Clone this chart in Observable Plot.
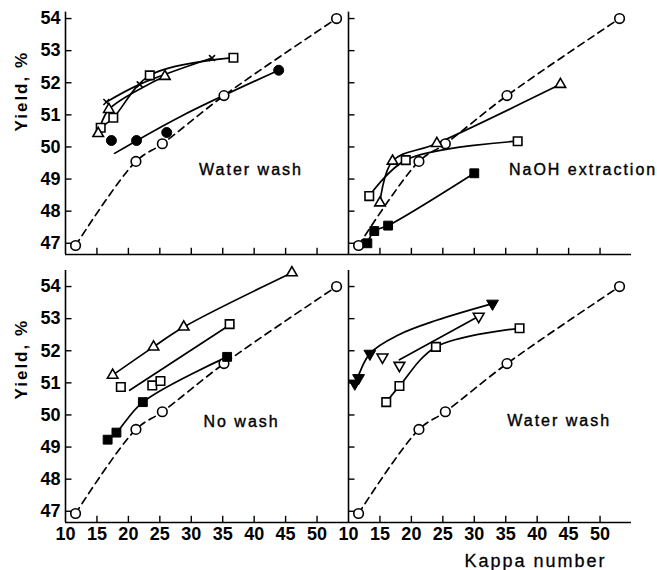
<!DOCTYPE html>
<html><head><meta charset="utf-8">
<script src="https://cdn.jsdelivr.net/npm/d3@7"></script>
<script src="https://cdn.jsdelivr.net/npm/@observablehq/plot@0.6"></script>
<style>
body{margin:0;background:#fff}
#chart{position:absolute;left:0;top:0}
</style></head><body><div id="chart"></div>
<script>
// ---- axes ----
const xTicks = [10,15,20,25,30,35,40,45,50];
const yTicks = [47,48,49,50,51,52,53,54];
const xDomain = [10, 55];
const yDomain = [46.65, 54.5];

// ---- panels: 0 top-left, 1 top-right, 2 bottom-left, 3 bottom-right ----
const panelCol = [0,1,0,1];
const panelRow = [0,0,1,1];
const panelTitles = ["Water wash","NaOH extraction","No wash","Water wash"];
const titleKappa = [39.5, 47.3, 38.0, 43.5];
const titleYield = [49.3, 49.3, 49.78, 49.83];
const axisTop = [54.2, 54.2, 54.5, 54.5];

// reference pulp (open circles, dashed) – same in every panel
const refPts = [[11.6,46.93],[21.2,49.55],[25.4,50.1],[35.2,51.6],[53.1,54.0]];

// panel 0 – Water wash
const p0FilledCircle = [[17.3,50.2],[21.3,50.2],[26.1,50.45],[43.9,52.39]];
const p0FilledCircleLine = [[17.8,49.8],[28.4,50.96],[43.9,52.39]];
const p0Cross = [[16.5,51.4],[21.8,51.95],[33.3,52.77]];
const p0Square = [[15.6,50.6],[17.6,50.91],[23.4,52.23],[36.7,52.78]];
const p0Triangle = [[15.2,50.42],[16.9,51.17],[25.8,52.2]];
// panel 1 – NaOH extraction
const p1FilledSquare = [[13.0,47.0],[14.1,47.38],[16.3,47.55],[30.0,49.18]];
const p1Square = [[13.3,48.47],[19.1,49.59],[36.9,50.18]];
const p1Triangle = [[15.0,48.26],[17.0,49.56],[24.05,50.11],[43.7,51.95]];
// panel 2 – No wash
const p2Triangle = [[17.5,51.24],[24.0,52.12],[28.8,52.74],[46.0,54.43]];
const p2Square = [[18.8,50.87],[23.8,50.92],[25.1,51.06],[36.1,52.83]];
const p2SquareLine = [[20.2,50.77],[36.1,52.8]];
const p2FilledSquare = [[16.7,49.23],[18.1,49.45],[22.3,50.4],[35.7,51.81]];
// panel 3 – Water wash
const p3FilledDown = [[11.0,50.98],[11.6,51.15],[13.4,51.91],[32.9,53.47]];
const p3FilledDownLine = [[11.2,51.0],[13.4,51.91],[18,52.5],[24,52.95],[32.9,53.47]];
const p3OpenDown = [[15.4,51.8],[18.1,51.54],[30.7,53.07]];
const p3OpenDownLine = [[18.1,51.72],[30.5,53.05]];
const p3Square = [[16.0,50.4],[18.1,50.9],[23.9,52.12],[37.2,52.7]];

// marker kinds
const kinds = {
  openCircle:   {symbol:"circle",   r:4.8, fill:"white", rotate:0},
  filledCircle: {symbol:"circle",   r:5.0, fill:"black", rotate:0},
  openSquare:   {symbol:"square",   r:4.8, fill:"white", rotate:0},
  filledSquare: {symbol:"square",   r:5.0, fill:"black", rotate:0},
  openTriangle: {symbol:"triangle", r:3.9, fill:"white", rotate:0},
  openDown:     {symbol:"triangle", r:4.0, fill:"white", rotate:180},
  filledDown:   {symbol:"triangle", r:4.4, fill:"black", rotate:180},
  cross:        {symbol:"times",    r:2.8, fill:"none",  rotate:0}
};

const series = [
  {panel:0, pts:p0FilledCircle, line:p0FilledCircleLine, kind:"filledCircle"},
  {panel:0, pts:p0Cross, line:p0Cross, kind:"cross"},
  {panel:0, pts:p0Square, line:p0Square, kind:"openSquare"},
  {panel:0, pts:p0Triangle, line:p0Triangle, kind:"openTriangle"},
  {panel:1, pts:p1FilledSquare, line:p1FilledSquare, kind:"filledSquare"},
  {panel:1, pts:p1Square, line:p1Square, kind:"openSquare"},
  {panel:1, pts:p1Triangle, line:p1Triangle, kind:"openTriangle"},
  {panel:2, pts:p2Triangle, line:p2Triangle, kind:"openTriangle"},
  {panel:2, pts:p2Square, line:p2SquareLine, kind:"openSquare"},
  {panel:2, pts:p2FilledSquare, line:p2FilledSquare, kind:"filledSquare"},
  {panel:3, pts:p3FilledDown, line:p3FilledDownLine, kind:"filledDown"},
  {panel:3, pts:p3OpenDown, line:p3OpenDownLine, kind:"openDown"},
  {panel:3, pts:p3Square, line:p3Square, kind:"openSquare"}
];

const panels = [0,1,2,3];
const refRows = panels.flatMap(p => refPts.map(([k,y]) => ({panel:p, col:panelCol[p], row:panelRow[p], k, y})));

const W = 657, H = 570;
const mL = 64, mR = 26, mT = 2, mB = 48;
const colW = (W - mL - mR) / 2;
const rowGap = 16.4;
const rowH = (H - mT - mB - rowGap) / 2;

const X = d => d[0], Y = d => d[1];
const marks = [];

// axis lines
marks.push(Plot.ruleY([yDomain[0]], {stroke:"black", strokeWidth:1.6}));
marks.push(Plot.ruleX(panels, {x: () => xDomain[0], y1: () => yDomain[0], y2: p => axisTop[p],
  fx: p => panelCol[p], fy: p => panelRow[p], stroke:"black", strokeWidth:1.6}));
// inward tick marks
marks.push(Plot.tickX(xTicks.slice(1), {x: d => d, insetTop: rowH - 6, stroke:"black", strokeWidth:1.4}));
marks.push(Plot.tickY(yTicks, {y: d => d, insetRight: colW - 7, stroke:"black", strokeWidth:1.4}));
// tick labels
marks.push(Plot.axisX(xTicks, {tickSize:0, tickPadding:5, label:null, fontSize:18, fontWeight:"bold",
  tickFormat: d => String(d)}));
marks.push(Plot.axisY(yTicks, {tickSize:0, tickPadding:5, label:null, fontSize:18, fontWeight:"bold",
  tickFormat: d => String(d)}));

// reference dashed curve + circles
marks.push(Plot.line(refRows, {x:"k", y:"y", z:"panel", fx:"col", fy:"row", curve:"catmull-rom",
  stroke:"black", strokeWidth:1.7, strokeDasharray:"7,5"}));

// series lines
for (const s of series) {
  marks.push(Plot.line(s.line, {x:X, y:Y, fx: () => panelCol[s.panel], fy: () => panelRow[s.panel],
    curve:"catmull-rom", stroke:"black", strokeWidth:1.7}));
}
// markers
marks.push(Plot.dot(refRows, {x:"k", y:"y", fx:"col", fy:"row", symbol:"circle", r:kinds.openCircle.r,
  fill:"white", stroke:"black", strokeWidth:1.6}));
for (const s of series) {
  const m = kinds[s.kind];
  marks.push(Plot.dot(s.pts, {x:X, y:Y, fx: () => panelCol[s.panel], fy: () => panelRow[s.panel],
    symbol:m.symbol, r:m.r, rotate:m.rotate, fill:m.fill, stroke:"black",
    strokeWidth: m.fill === "black" ? 1 : 1.6}));
}

// panel titles
marks.push(Plot.text(panels, {x: p => titleKappa[p], y: p => titleYield[p], fx: p => panelCol[p], fy: p => panelRow[p],
  text: p => panelTitles[p], fontSize:16, fill:"black", stroke:"black", strokeWidth:0.4}));
// y labels
marks.push(Plot.text([0,1], {fx: () => 0, fy: d => d, text: () => "Yield, %", frameAnchor:"left",
  rotate:-90, dx:-44, dy:3, fontSize:17, fontWeight:"bold", fill:"black"}));
// x label
marks.push(Plot.text([0], {fx: () => 1, fy: () => 1, text: () => "Kappa number", frameAnchor:"bottom-right",
  textAnchor:"end", lineAnchor:"bottom", dx:-25, dy:44, fontSize:18, fill:"black", stroke:"black", strokeWidth:0.3}));

const chart = Plot.plot({
  width: W, height: H,
  marginLeft: mL, marginRight: mR, marginTop: mT, marginBottom: mB,
  x: {domain: xDomain},
  y: {domain: yDomain},
  fx: {domain: [0,1], axis: null, padding: 0},
  fy: {domain: [0,1], axis: null, paddingInner: rowGap / (rowH + rowGap), paddingOuter: 0},
  style: {fontFamily: "Liberation Sans, Arial, sans-serif", background: "white", color: "black"},
  marks
});
document.getElementById("chart").appendChild(chart);
d3.select(chart).selectAll('g[aria-label="text"] text').style("letter-spacing", "2px");
</script></body></html>
